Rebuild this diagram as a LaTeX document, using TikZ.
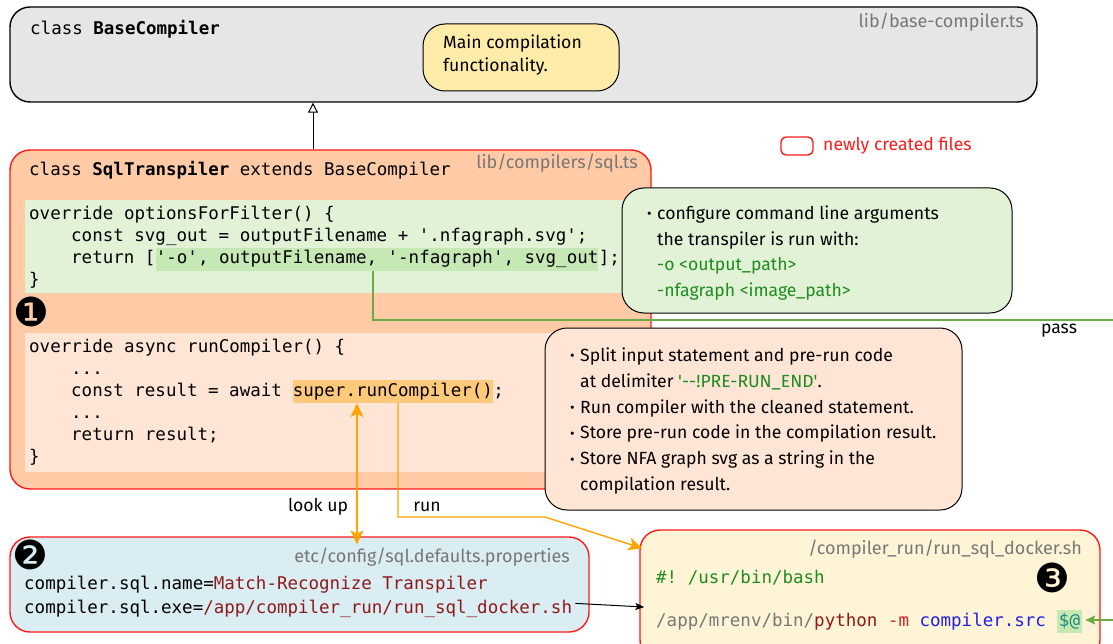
\documentclass[tikz,border=0pt]{standalone}
\usepackage{fontspec}
\setmainfont{Fira Sans}[Ligatures=TeXOff]
\setmonofont{DejaVu Sans Mono}
\newfontfamily\symfont{DejaVu Sans}
\usetikzlibrary{arrows.meta}

\definecolor{basefill}{HTML}{E6E6E6}
\definecolor{notey}{HTML}{FFECA8}
\definecolor{peach}{HTML}{FFCBA6}
\definecolor{lightpeach}{HTML}{FFE5D5}
\definecolor{codegreenbg}{HTML}{E2F2D6}
\definecolor{hlgreen}{HTML}{C6E8B4}
\definecolor{hlorange}{HTML}{FFC97C}
\definecolor{cfgblue}{HTML}{D9EDF3}
\definecolor{scriptbg}{HTML}{FFF4D6}
\definecolor{newred}{HTML}{FF1A1A}
\definecolor{linegreen}{HTML}{6DAA45}
\definecolor{runorange}{HTML}{FFA500}
\definecolor{pathgray}{HTML}{777777}
\definecolor{valred}{HTML}{8E1A1A}
\definecolor{txtgreen}{HTML}{1E8C1E}
\definecolor{optred}{HTML}{D42020}
\definecolor{srcblue}{HTML}{1F1FE6}
\definecolor{teal2}{HTML}{1A8A7A}

\newcommand\codefont{\ttfamily\fontsize{17.5}{22}\selectfont}
\newcommand\notefont{\fontsize{17.6}{25.8}\selectfont}
\newcommand\blt{\makebox[10pt][l]{\raisebox{0.5pt}{\fontsize{14}{14}\selectfont •}}}
\newcommand\bltgap{\hspace*{10pt}}

\tikzset{
  otip/.tip={Stealth[length=14pt, width=13pt, inset=3.5pt]},
  gtip/.tip={Stealth[length=10pt, width=9pt, inset=2pt]},
  btip/.tip={Stealth[length=9pt, width=7pt, inset=2pt]},
}

\begin{document}
\begin{tikzpicture}[x=1pt,y=-1pt,
  panel/.style={rounded corners=20pt, line width=1.4pt},
  newpanel/.style={panel, draw=newred},
  note/.style={rounded corners=22pt, draw=black, line width=1pt},
  code/.style={font=\codefont, anchor=base west, inner sep=0pt},
  hl/.style={code, inner ysep=0pt, text height=16pt, text depth=7pt},
  path label/.style={font=\fontsize{18}{22}\selectfont, text=pathgray, anchor=east, inner sep=0pt},
  notetext/.style={font=\notefont, align=left, anchor=west, inner sep=0pt},
  marker/.style={font=\symfont\fontsize{40}{40}\selectfont, inner sep=0pt},
  plainlabel/.style={font=\fontsize{17.6}{20}\selectfont, inner sep=0pt},
  orangeline/.style={draw=runorange, line width=1.4pt},
]
\useasboundingbox (0,0) rectangle (1113,644);

% ---------- BaseCompiler ----------
\node[panel, draw=black, fill=basefill, minimum width=1027pt, minimum height=95pt] (base) at (523.5,54.5) {};
\node[code, font=\codefont] (basetitle) at (30,35) {class \textbf{BaseCompiler}};
\node[path label] (basepath) at (1024,22) {lib/base-compiler.ts};
\node[note, fill=notey, minimum width=196pt, minimum height=67pt] (mainnote) at (521,57.5) {};
\node[notetext, font=\fontsize{17.6}{23}\selectfont] (maintext) at (443,55) {Main compilation\\functionality.};

% ---------- SqlTranspiler ----------
\node[newpanel, fill=peach, minimum width=641pt, minimum height=339pt] (sql) at (330.5,319.5) {};
\coordinate (inhx) at (313,0);
\draw[line width=1pt, -{Triangle[open, length=10pt, width=10pt]}, fill=white] (inhx |- sql.north) -- (inhx |- base.south);

\node[code] (sqltitle) at (29,176) {class \textbf{SqlTranspiler} extends BaseCompiler};
\node[path label] (sqlpath) at (638,163) {lib/compilers/sql.ts};

% optionsForFilter block
\node[fill=codegreenbg, minimum width=620pt, minimum height=93pt, inner sep=0pt] (optblock) at (335,246.5) {};
\node[code] (opt1) at (29,220) {override optionsForFilter() \{};
\node[code] (opt2) at (71,242) {const svg\_out = outputFilename + '.nfagraph.svg';};
\node[code] (ret1) at (71,264) {return [};
\node[hl, fill=hlgreen] (rethl) at (ret1.base east) {'-o', outputFilename, '-nfagraph', svg\_out};
\node[code] (ret2) at (rethl.base east) {];};
\node[code] (opt4) at (29,286) {\}};

\node[marker] (m1) at (31,312) {❶};

% runCompiler block
\node[fill=lightpeach, minimum width=620pt, minimum height=139pt, inner sep=0pt] (runblock) at (335,402.5) {};
\node[code] (run1) at (29,352) {override async runCompiler() \{};
\node[code] (run2) at (71,374) {...};
\node[code] (res1) at (71,396) {const result = await~\null};
\node[hl, fill=hlorange] (superhl) at (res1.base east) {super.runCompiler()};
\node[code] (res2) at (superhl.base east) {;};
\node[code] (run4) at (71,418) {...};
\node[code] (run5) at (71,440) {return result;};
\node[code] (run6) at (29,462) {\}};

% ---------- legend ----------
\node[draw=newred, line width=1.4pt, rounded corners=5pt, minimum width=32pt, minimum height=18pt, inner sep=0pt] (legbox) at (797,146) {};
\node[plainlabel, text=newred, anchor=west] (legtext) at (823,146) {newly created files};

% ---------- notes ----------
\node[note, fill=codegreenbg, minimum width=390pt, minimum height=125pt] (argnote) at (817,250.5) {};
\node[notetext] (argtext) at (647,253) {\blt configure command line arguments\\
  \bltgap the transpiler is run with:\\
  \bltgap\textcolor{txtgreen}{-o <output\_path>}\\
  \bltgap\textcolor{txtgreen}{-nfagraph <image\_path>}};

\node[note, fill=lightpeach, minimum width=417pt, minimum height=182pt] (runnote) at (753.5,419) {};
\node[notetext] (runtext) at (570,421) {\blt Split input statement and pre-run code\\
  \bltgap at delimiter \textcolor{txtgreen}{'--!PRE-RUN\_END'}.\\
  \blt Run compiler with the cleaned statement.\\
  \blt Store pre-run code in the compilation result.\\
  \blt Store NFA graph svg as a string in the\\
  \bltgap compilation result.};

% ---------- config file ----------
\node[newpanel, fill=cfgblue, minimum width=579pt, minimum height=95pt] (cfg) at (299.5,584.5) {};
\node[marker] (m2) at (30,555) {❷};
\node[path label] (cfgpath) at (570,557) {etc/config/sql.defaults.properties};
\node[code] (cfgname) at (24,589) {compiler.sql.name=\textcolor{valred}{Match-Recognize Transpiler}};
\node[code] (cfgexe) at (24,613) {compiler.sql.exe=\textcolor{valred}{/app/compiler\_run/run\_sql\_docker.sh}};

% ---------- run script ----------
\node[newpanel, fill=scriptbg, minimum width=460pt, minimum height=130pt] (script) at (870,595) {};
\node[path label] (scriptpath) at (1082,549) {/compiler\_run/run\_sql\_docker.sh};
\node[code] (shebang) at (656,583) {\textcolor{txtgreen}{\#! /usr/bin/bash}};
\node[marker] (m3) at (1052,578) {❸};
\node[code] (pyline) at (656,626) {\textcolor{pathgray}{/app/mrenv/bin/}\textcolor{valred}{python} \textcolor{optred}{-m} \textcolor{srcblue}{compiler.src}~\null};
\node[hl, fill=hlgreen, text=teal2, inner xsep=2pt] (dollar) at (pyline.base east) {\$@};

% ---------- connectors ----------
% arguments passed on to the script
\coordinate (passx) at (373,0);
\coordinate (passout) at (1125,320);
\draw[draw=linegreen, line width=1.4pt] (passx |- rethl.south) -- (passx |- passout) -- (passout);
\node[plainlabel] (passlabel) at (1059,331) {pass};
\coordinate (argin) at (1125,620);
\draw[draw=linegreen, line width=1.4pt, -gtip] (argin) -- ([xshift=3pt]dollar.east |- argin);

% look up the configured executable
\coordinate (lookx) at (357,0);
\draw[orangeline, otip-otip] (lookx |- superhl.south) -- ([yshift=-8pt]lookx |- cfg.north);
\node[plainlabel] (looklabel) at (318,507) {look up};

% run the script
\coordinate (runx) at (398,0);
\coordinate (runbend) at (545,517);
\draw[orangeline, -otip] (runx |- superhl.south) -- (runx |- runbend) -- (runbend) -- ([xshift=3pt,yshift=-19pt]script.north west);
\node[plainlabel] (runlabel) at (427,507) {run};

% executable path points at the script
\draw[line width=1pt, -btip] ([xshift=3pt,yshift=5pt]cfgexe.east) -- ([xshift=5pt]script.west |- 0,607);
\end{tikzpicture}
\end{document}
